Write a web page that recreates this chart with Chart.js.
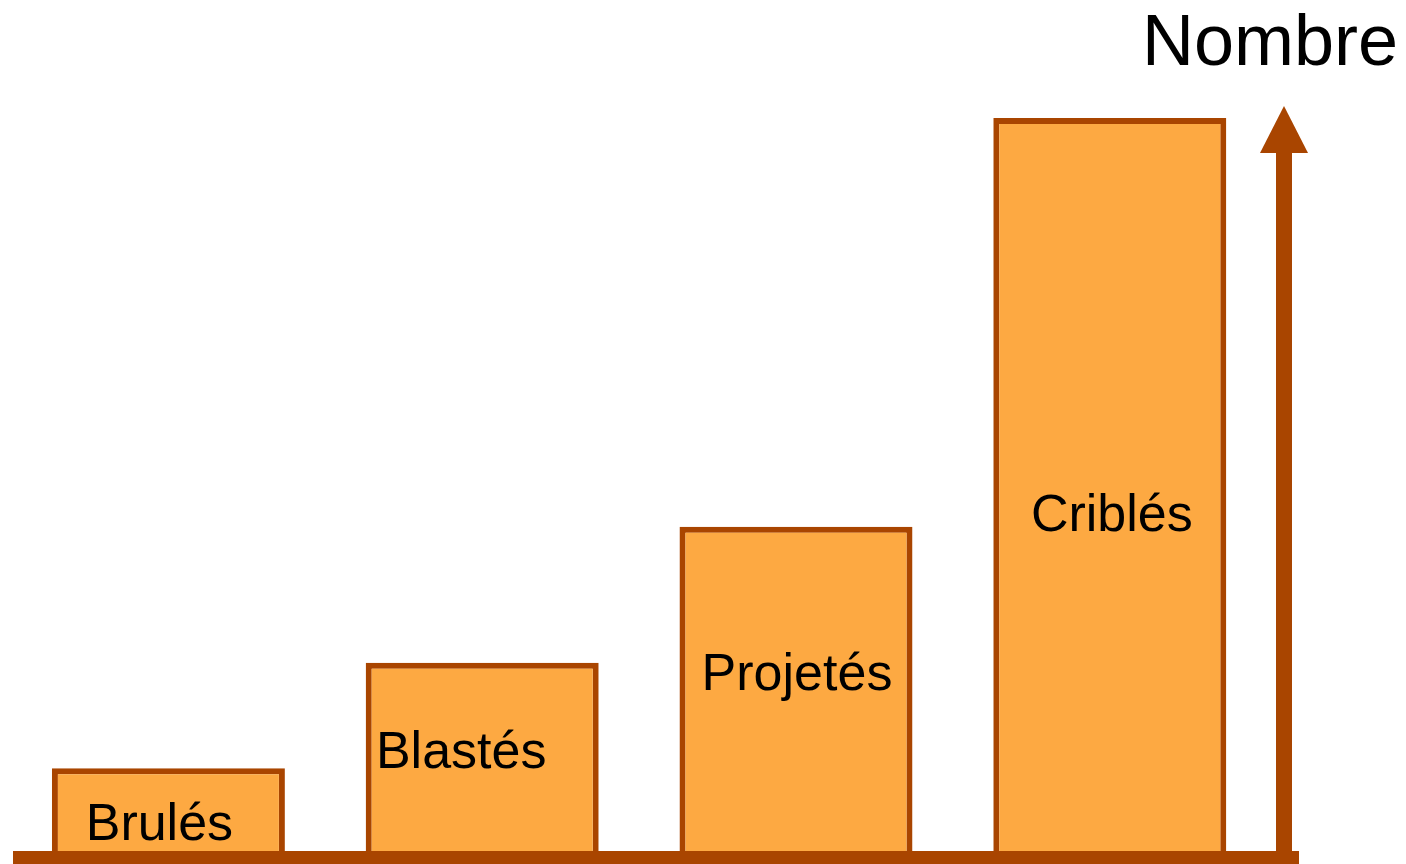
<!DOCTYPE html>
<html>
<head>
<meta charset="utf-8">
<script src="https://cdn.jsdelivr.net/npm/chart.js@4/dist/chart.umd.min.js"></script>
<style>
  html, body { margin: 0; padding: 0; background: #ffffff; }
  #wrap { width: 1406px; height: 864px; position: relative; }
</style>
</head>
<body>
<div id="wrap"><canvas id="c" width="1406" height="864"></canvas></div>
<script>
// ---- data ----
const categories = ['Brulés', 'Blastés', 'Projetés', 'Criblés'];
const values = [12, 26.3, 44.7, 100];
const axisTitle = 'Nombre';

// ---- style ----
const FILL = '#FDA942';
const DARK = '#A94500';
const FONT = '"Liberation Sans", Arial, Helvetica, sans-serif';

const decorPlugin = {
  id: 'decor',
  afterDatasetsDraw(chart, args, opts) {
    const ctx = chart.ctx;
    const meta = chart.getDatasetMeta(0);
    ctx.save();
    // labels inside bars
    ctx.fillStyle = '#000';
    ctx.font = '52px ' + FONT;
    ctx.textAlign = 'center';
    ctx.textBaseline = 'alphabetic';
    meta.data.forEach((bar, i) => {
      ctx.fillText(categories[i], bar.x + opts.labelDx[i], bar.y + opts.labelDy[i]);
    });
    // baseline
    const y0 = chart.scales.y.getPixelForValue(0);
    ctx.fillStyle = DARK;
    ctx.fillRect(13, y0 - 6, 1299 - 13, 13);
    // vertical arrow
    const ax = 1284;
    ctx.fillRect(ax - 8, 150, 16, y0 - 150);
    ctx.beginPath();
    ctx.moveTo(ax, 106);
    ctx.lineTo(ax + 24, 153);
    ctx.lineTo(ax - 24, 153);
    ctx.closePath();
    ctx.fill();
    // axis title
    ctx.fillStyle = '#000';
    ctx.font = '72px ' + FONT;
    ctx.textAlign = 'right';
    ctx.fillText(axisTitle, 1398, 65);
    ctx.restore();
  }
};

new Chart(document.getElementById('c'), {
  type: 'bar',
  data: {
    labels: categories,
    datasets: [{
      data: values,
      backgroundColor: FILL,
      borderColor: DARK,
      borderWidth: 6,
      borderSkipped: false,
      barPercentage: 0.7425,
      categoryPercentage: 1.0
    }]
  },
  options: {
    responsive: false,
    animation: false,
    events: [],
    layout: { padding: { left: 11.5, right: 139.3, top: 118, bottom: 7 } },
    plugins: {
      legend: { display: false },
      tooltip: { enabled: false },
      title: { display: false },
      decor: {
        labelDx: [-9, -21, 1, 2],
        labelDy: [72, 105, 163, 413]
      }
    },
    scales: {
      x: {
        type: 'category',
        offset: true,
        display: false,
        grid: { display: false }
      },
      y: {
        min: 0,
        max: 100,
        display: false,
        grid: { display: false }
      }
    }
  },
  plugins: [decorPlugin]
});
</script>
</body>
</html>
